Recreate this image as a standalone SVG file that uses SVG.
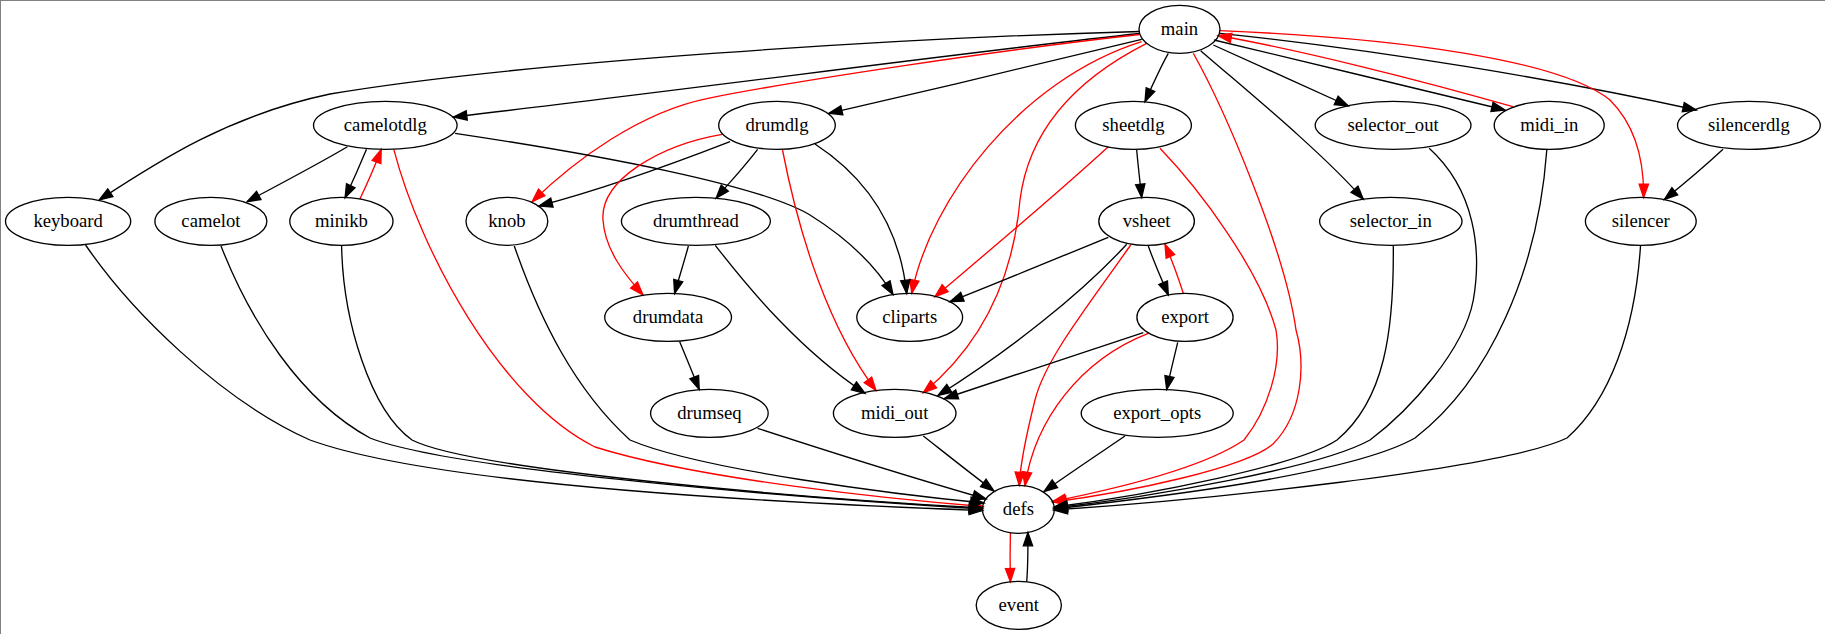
<svg xmlns="http://www.w3.org/2000/svg" width="1825" height="634" viewBox="0 0 1825 634">
<style>
.node ellipse{fill:none;stroke:#000;stroke-width:1.33}
.node text{font-family:"Liberation Serif","Times New Roman",serif;font-size:18.67px;text-anchor:middle;fill:#000}
.e{fill:none;stroke:#000;stroke-width:1.33;marker-end:url(#ab)}
.r{fill:none;stroke:#ff0000;stroke-width:1.33;marker-end:url(#ar)}
</style>
<defs>
<marker id="ab" markerUnits="userSpaceOnUse" markerWidth="16" markerHeight="12" refX="13.33" refY="4.67" orient="auto" overflow="visible"><path d="M0,0 L13.33,4.67 L0,9.33 Z" fill="#000" stroke="#000" stroke-width="1.33"/></marker>
<marker id="ar" markerUnits="userSpaceOnUse" markerWidth="16" markerHeight="12" refX="13.33" refY="4.67" orient="auto" overflow="visible"><path d="M0,0 L13.33,4.67 L0,9.33 Z" fill="#ff0000" stroke="#ff0000" stroke-width="1.33"/></marker>
</defs>
<rect x="0" y="0" width="1825" height="634" fill="#fff"/>
<line x1="0.5" y1="0" x2="0.5" y2="634" stroke="#808080" stroke-width="1"/>
<line x1="0" y1="0.5" x2="1825" y2="0.5" stroke="#808080" stroke-width="1"/>
<g id="edges">
<path class="e" d="M1139.5,31.5 C900,38 520,62 330,94 C230,115 160,160 99.2,200"/>
<path class="e" d="M1139.5,33.5 C1000,48 700,88 453.5,117"/>
<path class="e" d="M1141.7,39.3 C1050,62 930,90 828.8,113.3"/>
<path class="e" d="M1168.3,53.3 C1160,68 1152,86 1145,101.7"/>
<path class="e" d="M1213.3,45 C1255,64 1305,86 1348.3,106"/>
<path class="e" d="M1200.7,50.7 C1240,85 1320,150 1363.3,199.3"/>
<path class="e" d="M1214,40 C1300,60 1420,90 1505,110"/>
<path class="e" d="M1220,33.3 C1380,50 1560,80 1696.3,110"/>
<path class="r" d="M1139.5,34.5 C1000,50 800,80 708,98.3 C640,112 575,160 532.2,201.7"/>
<path class="r" d="M1141.7,41.7 C1020,80 930,200 911.8,293.3"/>
<path class="r" d="M1146.7,43.3 C1090,72 1030,120 1020,200 C1012,290 975,350 923.3,392.7"/>
<path class="r" d="M1193.3,53.3 C1225,110 1285,250 1296,330 C1306,365 1302,415 1273,444 C1245,468 1130,492 1053,502"/>
<path class="r" d="M1220,30.7 C1400,38 1560,60 1610,100 C1640,130 1644,170 1643.6,197.5"/>
<path class="r" d="M1512.9,106.7 C1420,80 1300,50 1218,35.5"/>
<path class="e" d="M347.4,146.7 C320,163 280,184 247,201.7"/>
<path class="e" d="M366.5,149.3 C360,165 352,183 345.1,197.8"/>
<path class="r" d="M359.8,199.3 C367,184 375,166 381.2,149.5"/>
<path class="e" d="M455.1,133.3 C600,155 760,185 810,215 C850,240 875,265 893,294.5"/>
<path class="r" d="M393.8,149.3 C420,250 500,400 595,447 C700,480 900,500 983,506.5"/>
<path class="e" d="M730,141.7 C670,165 600,190 539,206"/>
<path class="e" d="M757.6,149.3 C745,166 730,182 716.1,198.3"/>
<path class="e" d="M815,144 C870,180 900,230 906.7,293.5"/>
<path class="r" d="M722,134.3 C660,145 600,180 603,220 C605,250 625,275 643,295"/>
<path class="r" d="M782.5,150 C800,240 830,330 876,390.5"/>
<path class="e" d="M1136.7,150 C1138,165 1140,182 1141.7,197.5"/>
<path class="r" d="M1108.3,146.7 C1050,200 990,250 935,296.7"/>
<path class="r" d="M1160,148.3 C1200,190 1260,270 1276,330 C1282,365 1268,410 1244,440 C1200,470 1110,490 1052.5,501.5"/>
<path class="e" d="M1108.3,237.3 C1060,257 1000,282 950,301.7"/>
<path class="e" d="M1148.3,246 C1155,265 1162,280 1168.3,295"/>
<path class="r" d="M1183.3,293.3 C1178,277 1172,260 1165,244.3"/>
<path class="e" d="M1126.7,244.3 C1080,295 1010,350 938,395.5"/>
<path class="r" d="M1130.7,245 C1085,310 1045,360 1035,400 C1025,440 1020,465 1019.3,485.5"/>
<path class="e" d="M1143.3,332.7 C1080,353 1010,377 944.5,398.5"/>
<path class="r" d="M1148.3,333.3 C1080,360 1035,420 1025,485.5"/>
<path class="e" d="M1177.7,342.3 C1174,358 1170,374 1166.7,389.5"/>
<path class="e" d="M688.4,246 C684,262 679,278 674.6,293.5"/>
<path class="e" d="M715.3,245.3 C750,290 800,350 865,393.3"/>
<path class="e" d="M679.7,341.7 C686,357 693,374 699.2,389.5"/>
<path class="e" d="M757.6,428.3 C830,452 910,477 986,499"/>
<path class="e" d="M923.3,436 C945,453 970,473 994,491"/>
<path class="e" d="M1125,436 C1100,453 1070,473 1044,491.5"/>
<path class="e" d="M85.6,245 C130,310 220,400 310,440 C420,480 700,500 982.5,510.5"/>
<path class="e" d="M221,246 C250,320 300,400 370,438 C450,470 800,498 982.5,509"/>
<path class="e" d="M341.6,246 C343,320 370,410 412,440 C470,470 800,498 982.5,508"/>
<path class="e" d="M514.3,246 C540,320 575,390 630,440 C700,470 900,495 984,503"/>
<path class="e" d="M1393.3,246 C1394,330 1385,400 1337,440 C1300,465 1150,495 1054,507"/>
<path class="e" d="M1429.2,148.3 C1475,190 1482,250 1473.3,300 C1464,350 1410,410 1370,440 C1320,468 1150,497 1054,508"/>
<path class="e" d="M1546.8,150 C1538,270 1490,380 1415,438 C1350,475 1150,498 1054,509"/>
<path class="e" d="M1640.5,246 C1635,330 1610,400 1567,438 C1500,470 1200,500 1054,510"/>
<path class="e" d="M1723,149.3 C1705,166 1685,183 1664.4,199.5"/>
<path class="r" d="M1010.4,533 C1010,548 1010,565 1010.4,581.8"/>
<path class="e" d="M1026.7,581.8 C1028,566 1028,549 1027.9,532.5"/>
</g>
<g id="main" class="node"><ellipse cx="1179.5" cy="29.33" rx="40.5" ry="24"/><text x="1179.5" y="35">main</text></g>
<g id="camelotdlg" class="node"><ellipse cx="385.3" cy="125.33" rx="71.8" ry="24"/><text x="385.3" y="131">camelotdlg</text></g>
<g id="drumdlg" class="node"><ellipse cx="777" cy="125.33" rx="58.3" ry="24"/><text x="777" y="131">drumdlg</text></g>
<g id="sheetdlg" class="node"><ellipse cx="1133.4" cy="125.33" rx="58" ry="24"/><text x="1133.4" y="131">sheetdlg</text></g>
<g id="selector_out" class="node"><ellipse cx="1393.1" cy="125.33" rx="77.9" ry="24"/><text x="1393.1" y="131">selector_out</text></g>
<g id="midi_in" class="node"><ellipse cx="1549.2" cy="125.33" rx="55" ry="24"/><text x="1549.2" y="131">midi_in</text></g>
<g id="silencerdlg" class="node"><ellipse cx="1748.9" cy="125.33" rx="71.4" ry="24"/><text x="1748.9" y="131">silencerdlg</text></g>
<g id="keyboard" class="node"><ellipse cx="68.1" cy="221.33" rx="62.6" ry="24"/><text x="68.1" y="227">keyboard</text></g>
<g id="camelot" class="node"><ellipse cx="210.9" cy="221.33" rx="56" ry="24"/><text x="210.9" y="227">camelot</text></g>
<g id="minikb" class="node"><ellipse cx="341.4" cy="221.33" rx="51.6" ry="24"/><text x="341.4" y="227">minikb</text></g>
<g id="knob" class="node"><ellipse cx="506.9" cy="221.33" rx="40.9" ry="24"/><text x="506.9" y="227">knob</text></g>
<g id="drumthread" class="node"><ellipse cx="695.9" cy="221.33" rx="74.5" ry="24"/><text x="695.9" y="227">drumthread</text></g>
<g id="vsheet" class="node"><ellipse cx="1146.6" cy="221.33" rx="47.8" ry="24"/><text x="1146.6" y="227">vsheet</text></g>
<g id="selector_in" class="node"><ellipse cx="1390.8" cy="221.33" rx="71.2" ry="24"/><text x="1390.8" y="227">selector_in</text></g>
<g id="silencer" class="node"><ellipse cx="1640.8" cy="221.33" rx="55.4" ry="24"/><text x="1640.8" y="227">silencer</text></g>
<g id="drumdata" class="node"><ellipse cx="668.1" cy="317.33" rx="63.4" ry="24"/><text x="668.1" y="323">drumdata</text></g>
<g id="cliparts" class="node"><ellipse cx="909.7" cy="317.33" rx="52.9" ry="24"/><text x="909.7" y="323">cliparts</text></g>
<g id="export" class="node"><ellipse cx="1185" cy="317.33" rx="48.1" ry="24"/><text x="1185" y="323">export</text></g>
<g id="drumseq" class="node"><ellipse cx="709.4" cy="413.33" rx="58.8" ry="24"/><text x="709.4" y="419">drumseq</text></g>
<g id="midi_out" class="node"><ellipse cx="894.7" cy="413.33" rx="61.3" ry="24"/><text x="894.7" y="419">midi_out</text></g>
<g id="export_opts" class="node"><ellipse cx="1157.2" cy="413.33" rx="76" ry="24"/><text x="1157.2" y="419">export_opts</text></g>
<g id="defs_node" class="node"><ellipse cx="1018.4" cy="509.33" rx="36" ry="24"/><text x="1018.4" y="515">defs</text></g>
<g id="event" class="node"><ellipse cx="1018.8" cy="605.33" rx="42.6" ry="24"/><text x="1018.8" y="611">event</text></g>
</svg>
